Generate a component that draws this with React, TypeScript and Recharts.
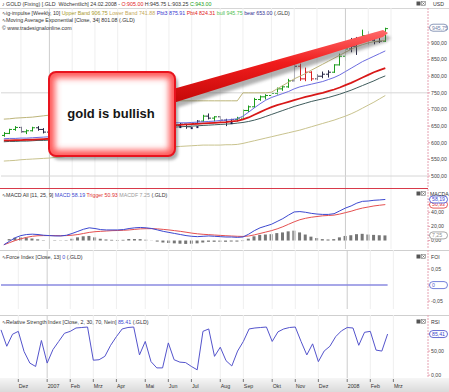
import React from "react";
import { ComposedChart, Bar, Line, Scatter, XAxis, YAxis, ReferenceLine } from "recharts";

const FONT = "'Liberation Sans', Arial, sans-serif";

// weekly bars, 12.11.2006 .. 24.02.2008
const monthTicks = [3, 8, 12, 16, 20, 25, 29, 33, 38, 42, 47, 51, 55, 60, 64, 68];
const monthLabels = ["Dez", "2007", "Feb", "Mrz", "Apr", "Mai", "Jun", "Jul", "Aug", "Sep", "Okt", "Nov", "Dez", "2008", "Feb", "Mrz"];
const yearTicks = [8, 60];

const opens = [622, 628, 640, 646, 633, 636, 645, 640, 632, 614, 628, 646, 654, 664, 668, 682, 648, 648, 654, 662, 668, 677, 686, 684, 680, 672, 676, 664, 658, 660, 667, 652, 656, 648, 658, 665, 680, 674, 678, 668, 664, 670, 674, 697, 708, 730, 738, 742, 748, 762, 768, 786, 830, 792, 812, 792, 800, 806, 812, 834, 860, 882, 890, 912, 922, 908, 904, 905];
const highs = [632, 642, 650, 648, 640, 648, 650, 644, 640, 630, 648, 656, 666, 672, 686, 685, 652, 656, 664, 670, 680, 690, 691, 686, 684, 688, 680, 668, 664, 674, 669, 660, 657, 660, 668, 684, 688, 680, 680, 672, 672, 678, 700, 712, 735, 742, 746, 752, 766, 772, 792, 843, 838, 826, 815, 806, 814, 818, 836, 868, 888, 915, 918, 940, 935, 930, 928, 945.75];
const lows = [618, 626, 636, 630, 626, 634, 636, 628, 610, 612, 626, 644, 650, 660, 665, 645, 636, 640, 652, 658, 665, 674, 680, 676, 668, 668, 660, 656, 654, 657, 648, 648, 642, 646, 656, 662, 670, 664, 663, 650, 660, 664, 670, 692, 705, 726, 730, 738, 745, 756, 765, 784, 786, 785, 786, 788, 794, 796, 810, 832, 846, 872, 864, 905, 895, 896, 900, 903.25];
const closes = [628, 640, 646, 633, 636, 645, 640, 632, 614, 628, 646, 654, 664, 668, 682, 648, 648, 654, 662, 668, 677, 686, 684, 680, 672, 676, 664, 658, 660, 667, 652, 656, 648, 658, 665, 680, 674, 678, 668, 664, 670, 674, 697, 708, 730, 738, 742, 748, 762, 768, 786, 830, 792, 812, 792, 800, 806, 812, 834, 860, 882, 890, 912, 922, 908, 904, 905, 943];
// impulse colour per bar: g = bull, r = bear, k = neutral
const barColors = "gggkggkkkkgggggrrkkgggkkrkrrkkkkkkkgkgkkkggggggggggkrrrkkkgggkkgkkkg".split("");

const upperBand = [671, 672, 674, 675, 676, 677, 679, 681, 683, 684, 686, 688, 690, 692, 694, 696, 698, 700, 702, 704, 706, 708, 710, 712, 714, 716, 718, 720, 722, 724, 726, 726, 726, 726, 726, 726, 726, 726, 726, 726, 726, 726, 750, 750, 750, 750, 750, 752, 762, 772, 782, 792, 800, 808, 818, 827, 836, 845, 854, 863, 872, 881, 889, 895, 900, 904, 906, 907];
const lowerBand = [545, 546, 547, 549, 550, 551, 552, 553, 554, 556, 557, 559, 560, 562, 563, 565, 566, 568, 569, 571, 572, 574, 575, 577, 578, 580, 581, 583, 585, 586, 588, 589, 590, 591, 592, 593, 593, 593, 593, 594, 594, 595, 598, 602, 606, 610, 614, 618, 622, 626, 630, 634, 638, 643, 648, 653, 658, 663, 668, 674, 680, 687, 695, 704, 713, 722, 732, 742];
const pbt3 = [612, 613, 613, 614, 614, 615, 616, 617, 618, 620, 622, 625, 628, 631, 634, 637, 640, 642, 644, 646, 648, 651, 654, 656, 657, 658, 659, 659, 660, 660, 660, 660, 660, 661, 662, 663, 664, 665, 667, 668, 670, 672, 680, 692, 705, 717, 728, 736, 742, 748, 754, 762, 768, 772, 776, 780, 784, 790, 796, 804, 814, 824, 834, 844, 852, 860, 868, 876];
const pbt4 = [607, 607, 608, 608, 609, 609, 610, 611, 612, 613, 615, 617, 619, 621, 624, 626, 628, 630, 632, 634, 636, 638, 641, 643, 645, 647, 648, 650, 651, 652, 653, 654, 655, 656, 657, 658, 659, 660, 661, 662, 664, 666, 670, 676, 684, 692, 700, 707, 713, 718, 723, 728, 733, 738, 742, 746, 750, 755, 760, 766, 773, 780, 788, 796, 804, 812, 818, 824];
const ema34 = [603, 604, 604, 605, 605, 606, 607, 607, 608, 609, 610, 612, 614, 616, 618, 620, 622, 624, 626, 628, 630, 632, 634, 636, 638, 640, 641, 643, 645, 646, 647, 648, 649, 650, 651, 652, 653, 654, 655, 656, 657, 659, 661, 664, 668, 673, 679, 685, 691, 697, 703, 709, 714, 719, 724, 728, 732, 736, 741, 746, 752, 758, 765, 772, 779, 786, 794, 801];
const bearIdx = [31, 33, 34, 40];
const bearVal = [647, 644, 647, 659];

const macdLine = [-6, -1, 4, 7, 8.5, 9, 8.5, 7.5, 7, 6.5, 6.5, 7.5, 10, 13, 16, 18, 17, 15.5, 15, 15, 15, 15.5, 17, 18, 18.5, 18, 17, 15, 13, 11.5, 10, 8.5, 7, 6, 5.5, 6, 6.5, 6, 5.5, 5, 5, 4.5, 5, 9, 14, 18, 20.5, 23, 27, 31, 36, 40.5, 41, 40, 38.5, 37.5, 37, 37, 38, 42, 46, 49, 53, 55.5, 56, 57, 57.5, 58.19];
const triggerLine = [-6, -3, 0, 2.5, 4.5, 6, 6.8, 7, 7, 7, 6.8, 7, 7.5, 8.5, 10, 11.5, 12.5, 13, 13.5, 14, 14.2, 14.5, 15, 15.8, 16.5, 16.8, 16.8, 16.5, 15.8, 15, 14, 13, 11.8, 10.5, 9.5, 8.8, 8.3, 7.8, 7.3, 6.8, 6.4, 6, 5.8, 6.4, 8, 10, 12, 14, 16.5, 19.5, 23, 26.5, 29.5, 31.5, 33, 34, 35, 35.5, 36, 37.5, 39.5, 41.5, 44, 46, 47.5, 49, 50, 50.93];
const macdHist = [0, 2, 4, 4.5, 4, 3, 1.7, 0.5, 0, -0.5, -0.3, 0.5, 2.5, 4.5, 6, 6.5, 4.5, 2.5, 1.5, 1, 0.8, 1, 2, 2.2, 2, 1.2, 0.2, -1.5, -2.8, -3.5, -4, -4.5, -4.8, -4.5, -4, -2.8, -1.8, -1.8, -1.8, -1.8, -1.4, -1.5, -0.8, 2.6, 6, 8, 8.5, 9, 10.5, 11.5, 13, 14, 11.5, 8.5, 5.5, 3.5, 2, 1.5, 2, 4.5, 6.5, 7.5, 9, 9.5, 8.5, 8, 7.5, 7.25];

const forceIdx = [0, 0, 0, 0, 0, 0, 0, 0, 0, 0, 0, 0, 0, 0, 0, 0, 0, 0, 0, 0, 0, 0, 0, 0, 0, 0, 0, 0, 0, 0, 0, 0, 0, 0, 0, 0, 0, 0, 0, 0, 0, 0, 0, 0, 0, 0, 0, 0, 0, 0, 0, 0, 0, 0, 0, 0, 0, 0, 0, 0, 0, 0, 0, 0, 0, 0, 0, 0];

const rsiLine = [94, 60, 85, 91, 49, 25, 18, 72, 25, 53, 70, 87, 91, 98, 99, 100, 31, 32, 39, 62, 80, 96, 99, 100, 42, 70, 28, 15, 15, 67, 32, 27, 26, 18, 11, 91, 96, 39, 58, 30, 19, 50, 70, 96, 98, 99, 100, 70, 90, 96, 99, 100, 70, 42, 65, 28, 50, 60, 80, 92, 99, 98, 62, 89, 91, 52, 50, 85.41];

const priceTicks = [500, 550, 600, 650, 700, 750, 800, 850, 900, 945.75];
const macdTicks = [0, 20, 40, 7.25, 50.93, 58.19];
const foiTicks = [-0.05, 0.05, 0];
const rsiTicks = [0, 50, 85.41];

const SLOTS = 75;
const rows = Array.from({ length: SLOTS }, (_, i) => {
  const b = bearIdx.indexOf(i);
  return {
    i,
    o: opens[i], h: highs[i], l: lows[i], cl: closes[i], col: barColors[i],
    upper: upperBand[i], lower: lowerBand[i], pbt3: pbt3[i], pbt4: pbt4[i], ema: ema34[i],
    bear: b >= 0 ? bearVal[b] : null,
    macd: macdLine[i], trig: triggerLine[i], hist: macdHist[i],
    foi: forceIdx[i], rsi: rsiLine[i],
  };
});

const COL: Record<string, string> = { g: "#1c9c1c", r: "#d82020", k: "#2a2a48" };
const AXIS = "#e6a2b2";

function OhlcShape(props: any) {
  const { x, y, width, height, payload } = props;
  if (!payload || payload.h == null) return null;
  const top = Math.min(y, y + height);
  const bot = Math.max(y, y + height);
  const span = payload.h - payload.l || 1;
  const py = (v: number) => top + ((payload.h - v) / span) * (bot - top);
  const cx = Math.round(x + width / 2) + 0.5;
  return (
    <g stroke={COL[payload.col]} strokeWidth={1}>
      <line x1={cx} x2={cx} y1={top} y2={bot} />
      <line x1={cx - 2.5} x2={cx} y1={py(payload.o)} y2={py(payload.o)} />
      <line x1={cx} x2={cx + 2.5} y1={py(payload.cl)} y2={py(payload.cl)} />
    </g>
  );
}

function BearDot(p: any) {
  if (!p.payload || p.payload.bear == null || !Number.isFinite(p.cy)) return null;
  return <rect x={p.cx - 1} y={p.cy - 1} width={2} height={2} fill="#1c1c50" />;
}

const comma = (v: number) => v.toFixed(2).replace(".", ",");

function makeTick(pills: Record<string, string>, fmt: (v: number) => string) {
  return (props: any) => {
    const { x, y, payload } = props;
    const v = payload.value;
    const pill = pills[String(v)];
    const label = fmt(v);
    if (pill) {
      return (
        <g>
          <rect x={x - 1.5} y={y - 3.5} width={18} height={7} rx={3.5} fill="#fff" stroke={pill} strokeWidth={0.8} />
          <text x={x + 1} y={y + 1.9} fontSize={5.2} fontFamily={FONT} fill={pill}>{label}</text>
        </g>
      );
    }
    return <text x={x} y={y + 1.9} fontSize={5.2} fontFamily={FONT} fill="#444">{label}</text>;
  };
}

const priceTick = makeTick({ "945.75": "#7080a8" }, comma);
const macdTick = makeTick({ "58.19": "#3c48d0", "50.93": "#e03030", "7.25": "#909090" }, comma);
const foiTick = makeTick({ "0": "#5060d0" }, (v) => (v === 0 ? "0" : comma(v)));
const rsiTick = makeTick({ "85.41": "#4048c8" }, comma);

function MonthTick(props: any) {
  const { x, y, index } = props;
  return (
    <g>
      <line x1={x} x2={x} y1={y + 1} y2={y + 4} stroke="#777" />
      <text x={x + 0.5} y={y + 9.5} fontSize={5.3} fontFamily={FONT} fill="#333">{monthLabels[index]}</text>
    </g>
  );
}

const monthLines = () =>
  monthTicks.map((t) => (
    <ReferenceLine key={"m" + t} x={t} stroke={yearTicks.includes(t) ? "#cdcdcd" : "#efefef"} strokeWidth={1} />
  ));

const yAxisCommon = {
  orientation: "right" as const,
  width: 21,
  type: "number" as const,
  allowDataOverflow: true,
  interval: 0 as const,
  axisLine: { stroke: AXIS, strokeDasharray: "2 1" },
  tickLine: { stroke: AXIS },
  tickSize: 2,
  tickMargin: 1,
};

const M = { right: 0, left: 1 };

const Header = ({ x, y, parts }: { x: number; y: number; parts: [string, string][] }) => (
  <text x={x} y={y} fontSize={5.3} fontFamily={FONT} xmlSpace="preserve">
    {parts.map(([t, c], k) => (
      <tspan key={k} fill={c}>{t}</tspan>
    ))}
  </text>
);

const Icons = ({ y }: { y: number }) => (
  <g>
    <rect x={416.5} y={y - 2.5} width={4} height={4} fill="#555" />
    <rect x={421.5} y={y - 2.5} width={4} height={4} fill="#fff" stroke="#777" strokeWidth={0.6} />
    <path d={`M422.3 ${y - 1.7} L424.7 ${y + 0.7} M424.7 ${y - 1.7} L422.3 ${y + 0.7}`} stroke="#555" strokeWidth={0.6} />
  </g>
);

const D = "#333";

export default function App() {
  return (
    <div style={{ position: "absolute", left: 0, top: 0, width: 449, height: 392, background: "#fff", overflow: "hidden" }}>
      <div style={{ position: "absolute", left: 0, top: 378, width: 449, height: 14, background: "linear-gradient(#f6f6f6, #dadada)" }} />
      <div style={{ position: "absolute", left: 0, top: 8, width: 449, height: 0, borderTop: "1px solid #d6d6d6" }} />
      <div style={{ position: "absolute", left: 0, top: 250, width: 449, height: 0, borderTop: "1px solid #cfcfcf" }} />
      <div style={{ position: "absolute", left: 0, top: 315, width: 449, height: 0, borderTop: "1px solid #cfcfcf" }} />

      {/* price panel */}
      <div style={{ position: "absolute", left: 0, top: 0 }}>
        <ComposedChart width={449} height={189} data={rows} margin={{ ...M, top: 8, bottom: 1 }}>
          <XAxis dataKey="i" hide />
          <YAxis {...yAxisCommon} domain={[464, 1005]} ticks={priceTicks} tick={priceTick} />
          {monthLines()}
          <ReferenceLine y={750} stroke="#d6d6d6" />
          <ReferenceLine y={500} stroke="#d6d6d6" />
          <Line dataKey="lower" stroke="#c9c38e" strokeWidth={1} dot={false} isAnimationActive={false} />
          <Line dataKey="upper" stroke="#bdb57a" strokeWidth={1} dot={false} isAnimationActive={false} />
          <Line dataKey="ema" stroke="#3f5c5c" strokeWidth={1} dot={false} isAnimationActive={false} />
          <Line dataKey="pbt4" stroke="#d81818" strokeWidth={1.8} dot={false} isAnimationActive={false} />
          <Line dataKey="pbt3" stroke="#6c6ce0" strokeWidth={1} dot={false} isAnimationActive={false} />
          <Bar dataKey={(d: any) => (d.h == null ? null : [d.l, d.h])} barSize={5} shape={OhlcShape} isAnimationActive={false} />
          <Scatter dataKey="bear" shape={BearDot} isAnimationActive={false} />
        </ComposedChart>
      </div>
      <div style={{ position: "absolute", left: 0, top: 188, width: 428, height: 0, borderTop: "1px solid #d83a4a" }} />

      {/* MACD panel */}
      <div style={{ position: "absolute", left: 0, top: 189 }}>
        <ComposedChart width={449} height={60} data={rows} margin={{ ...M, top: 0, bottom: 0 }}>
          <XAxis dataKey="i" hide />
          <YAxis {...yAxisCommon} domain={[-12, 73]} ticks={macdTicks} tick={macdTick} />
          {monthLines()}
          <Bar dataKey="hist" fill="#767676" barSize={3} isAnimationActive={false} />
          <Line dataKey="trig" stroke="#e55050" strokeWidth={1} dot={false} isAnimationActive={false} />
          <Line dataKey="macd" stroke="#3c48d0" strokeWidth={1} dot={false} isAnimationActive={false} />
        </ComposedChart>
      </div>

      {/* Force index panel */}
      <div style={{ position: "absolute", left: 0, top: 250 }}>
        <ComposedChart width={449} height={59} data={rows} margin={{ ...M, top: 0, bottom: 0 }}>
          <XAxis dataKey="i" hide />
          <YAxis {...yAxisCommon} domain={[-0.075, 0.11]} ticks={foiTicks} tick={foiTick} />
          {monthLines()}
          <Line dataKey="foi" stroke="#8a8ae0" strokeWidth={1.5} dot={false} isAnimationActive={false} />
        </ComposedChart>
      </div>

      {/* RSI panel */}
      <div style={{ position: "absolute", left: 0, top: 315 }}>
        <ComposedChart width={449} height={77} data={rows} margin={{ ...M, top: 0, bottom: 0 }}>
          <XAxis dataKey="i" ticks={monthTicks} interval={0} height={14} axisLine={false} tickLine={false} tickSize={0} tickMargin={0} tick={MonthTick} />
          <YAxis {...yAxisCommon} domain={[-6, 125]} ticks={rsiTicks} tick={rsiTick} />
          {monthLines()}
          <Line dataKey="rsi" stroke="#5454cc" strokeWidth={1} dot={false} isAnimationActive={false} />
        </ComposedChart>
      </div>

      {/* titles and callout */}
      <svg width={449} height={392} style={{ position: "absolute", left: 0, top: 0, pointerEvents: "none" }}>
        <defs>
          <filter id="sh" x="-20%" y="-20%" width="140%" height="140%"><feGaussianBlur stdDeviation="1.8" /></filter>
          <filter id="glow" x="-20%" y="-20%" width="140%" height="140%"><feGaussianBlur stdDeviation="3" /></filter>
          <clipPath id="boxClip"><rect x={49} y={72} width={126} height={84} rx={7} /></clipPath>
          <linearGradient id="arrowGrad" x1="0" y1="0" x2="0" y2="1">
            <stop offset="0" stopColor="#ff6a6a" />
            <stop offset="0.45" stopColor="#f01c1c" />
            <stop offset="1" stopColor="#c40808" />
          </linearGradient>
        </defs>

        <Header x={2} y={6} parts={[["\u266A GOLD (Fixing) [.GLD  W\u00f6chentlich] 24.02.2008 - ", D], ["O:905.00", "#e02020"], [" H:945.75 L:903.25 ", D], ["C:943.00", "#20a020"]]} />
        <Header x={2} y={14.5} parts={[["\u223Fig-impulse [Weekly, 10] ", D], ["Upper Band 906.75", "#a8982c"], [" ", D], ["Lower Band 741.88", "#c4a858"], [" ", D], ["Pbt3 875.91", "#3838d0"], [" ", D], ["Pbt4 824.31", "#e02020"], [" ", D], ["bull 945.75", "#50c050"], [" ", D], ["bear 653.00", "#303090"], [" (.GLD)", D]]} />
        <Header x={2} y={22} parts={[["\u223FMoving Average Exponential [Close, 34] 801.08 (.GLD)", D]]} />
        <Header x={2} y={29.5} parts={[["\u00A9 www.tradesignalonline.com", D]]} />
        <Header x={2} y={197} parts={[["\u223FMACD All [11, 25, 9] ", D], ["MACD 58.19", "#3c48d0"], [" ", D], ["Trigger 50.93", "#e03030"], [" ", D], ["MACDF 7.25", "#999"], [" (.GLD)", D]]} />
        <Header x={2} y={259} parts={[["\u223FForce Index [Close, 13] ", D], ["0", "#3c48d0"], [" (.GLD)", D]]} />
        <Header x={2} y={324} parts={[["\u223FRelative Strength Index [Close, 2, 30, 70, Nein] ", D], ["85.41", "#3c48d0"], [" (.GLD)", D]]} />

        <Icons y={4} />
        <text x={433} y={6} fontSize={5.2} fontFamily={FONT} fill={D}>USD</text>
        <Icons y={194} />
        <text x={430} y={196} fontSize={5.2} fontFamily={FONT} fill={D}>MACDA</text>
        <Icons y={257} />
        <text x={431} y={259} fontSize={5.2} fontFamily={FONT} fill={D}>FOI</text>
        <Icons y={322} />
        <text x={431} y={324} fontSize={5.2} fontFamily={FONT} fill={D}>RSI</text>

        {/* callout shadow */}
        <g filter="url(#sh)" opacity={0.45}>
          <polygon points="176,93 386,35 391,38 386,42 176,108" fill="#555" />
          <rect x={52} y={76} width={126} height={84} rx={7} fill="#444" />
        </g>
        <polygon points="173,89 383,30 388,33 383,37 173,103" fill="url(#arrowGrad)" />
        <rect x={49} y={72} width={126} height={84} rx={7} fill="#fff" />
        <g clipPath="url(#boxClip)">
          <rect x={49} y={72} width={126} height={84} rx={7} fill="none" stroke="#ff5a5a" strokeWidth={12} filter="url(#glow)" />
        </g>
        <rect x={49} y={72} width={126} height={84} rx={7} fill="none" stroke="#e8141e" strokeWidth={2} />
        <text x={111} y={118} textAnchor="middle" fontSize={13} fontWeight="bold" fontFamily={FONT} fill="#151515">gold is bullish</text>
      </svg>
    </div>
  );
}
